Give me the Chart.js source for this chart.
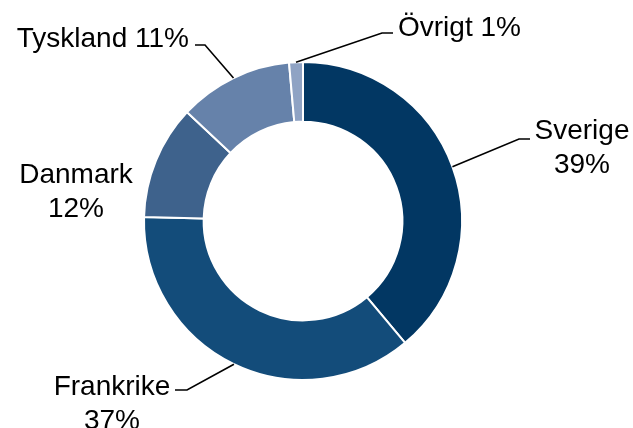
<!DOCTYPE html>
<html>
<head>
<meta charset="utf-8">
<script src="https://cdn.jsdelivr.net/npm/chart.js@4"></script>
<style>
  body { margin: 0; background: #fff; }
  #wrap { width: 633px; height: 428px; position: relative; }
</style>
</head>
<body>
<div id="wrap"><canvas id="c"></canvas></div>
<script>
const countries = ["Sverige", "Frankrike", "Danmark", "Tyskland", "Övrigt"];
const shares = [38.9, 36.5, 11.6, 11.6, 1.4];
const shareLabels = ["39%", "37%", "12%", "11%", "1%"];
const sliceColors = ["#023763", "#134c7a", "#3e628c", "#6682aa", "#8fa3c4"];

// label placement (leader line elbow/end and text anchor), per slice
const labelLayout = [
  { elbow: [519, 139], end: [530, 139], x: 582, y: 139, align: "center", split: true },
  { elbow: [187, 390], end: [175, 390], x: 112, y: 395, align: "center", split: true },
  { x: 76, y: 183, align: "center", split: true, noLine: true },
  { elbow: [205, 45], end: [195, 45], x: 189, y: 47, align: "right", split: false },
  { elbow: [382, 33], end: [393, 33], x: 398, y: 36, align: "left", split: false }
];

const labelPlugin = {
  id: "leaderLabels",
  afterDatasetsDraw(chart) {
    const ctx = chart.ctx;
    const meta = chart.getDatasetMeta(0);
    ctx.save();
    ctx.font = "28px 'Liberation Sans', Arial, sans-serif";
    ctx.fillStyle = "#000";
    ctx.strokeStyle = "#000";
    ctx.lineWidth = 1.6;
    meta.data.forEach((arc, i) => {
      const lay = labelLayout[i];
      const p = arc.getProps(["x", "y", "startAngle", "endAngle", "outerRadius"], true);
      const mid = (p.startAngle + p.endAngle) / 2;
      if (!lay.noLine) {
        ctx.beginPath();
        ctx.moveTo(p.x + p.outerRadius * Math.cos(mid), p.y + p.outerRadius * Math.sin(mid));
        ctx.lineTo(lay.elbow[0], lay.elbow[1]);
        ctx.lineTo(lay.end[0], lay.end[1]);
        ctx.stroke();
      }
      ctx.textAlign = lay.align;
      ctx.textBaseline = "alphabetic";
      if (lay.split) {
        ctx.fillText(countries[i], lay.x, lay.y);
        ctx.fillText(shareLabels[i], lay.x, lay.y + 34);
      } else {
        ctx.fillText(countries[i] + " " + shareLabels[i], lay.x, lay.y);
      }
    });
    ctx.restore();
  }
};

new Chart(document.getElementById("c"), {
  type: "doughnut",
  data: {
    labels: countries,
    datasets: [{
      data: shares,
      backgroundColor: sliceColors,
      borderColor: "#ffffff",
      borderWidth: 2
    }]
  },
  options: {
    responsive: true,
    maintainAspectRatio: false,
    animation: false,
    cutout: "62.5%",
    layout: { padding: { top: 61, bottom: 47, left: 143, right: 170 } },
    plugins: { legend: { display: false }, tooltip: { enabled: false } }
  },
  plugins: [labelPlugin]
});
</script>
</body>
</html>
